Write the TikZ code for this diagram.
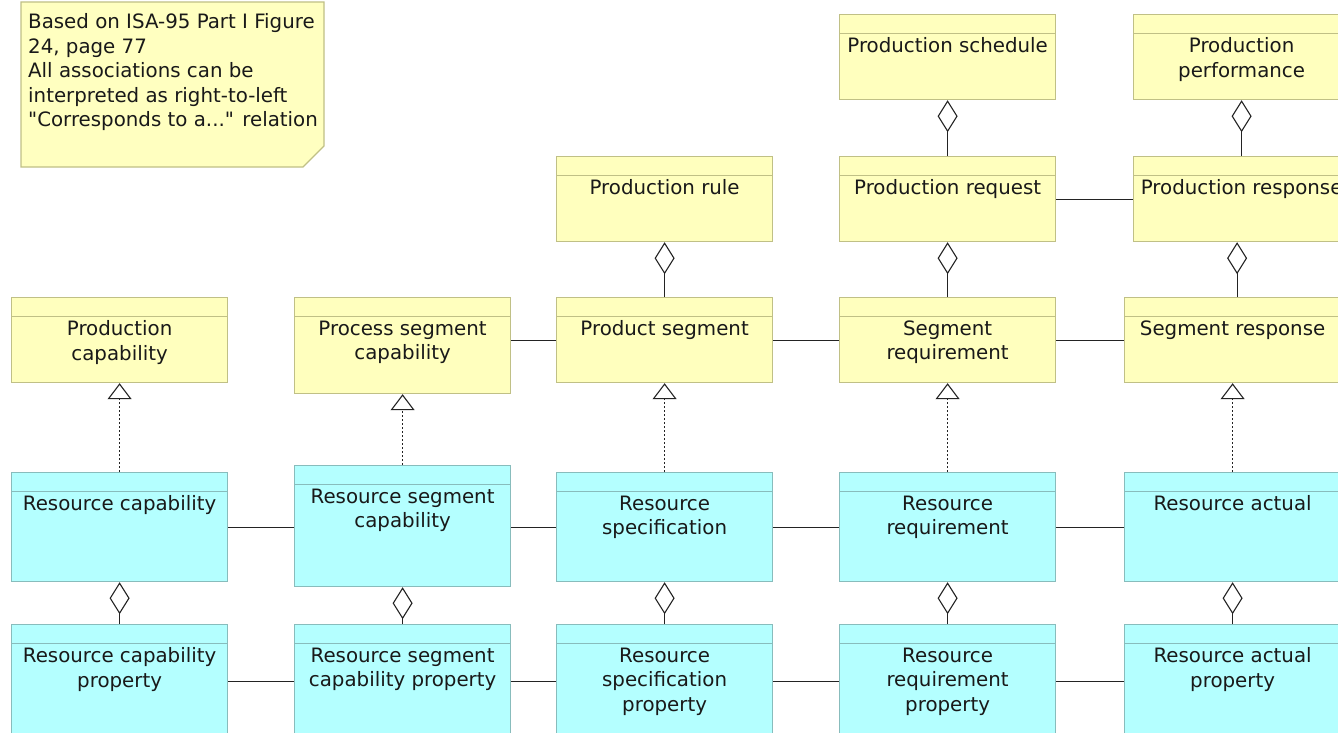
\documentclass[tikz,border=0pt]{standalone}
\usepackage{fontspec}
\setmainfont{DejaVu Sans}
\usetikzlibrary{arrows.meta,calc}

\definecolor{noteyellow}{RGB}{255,255,192}
\definecolor{clsyellow}{RGB}{255,255,190}
\definecolor{yellowline}{RGB}{192,192,134}
\definecolor{clscyan}{RGB}{180,255,255}
\definecolor{cyanline}{RGB}{136,188,188}
\definecolor{linkgray}{RGB}{35,35,35}

\begin{document}
\begin{tikzpicture}[x=1pt,y=-1pt,
	font=\fontsize{19.8}{24.5}\selectfont,
	cls/.style={draw=#1, line width=1.2pt, minimum width=216pt, anchor=north west, inner sep=0pt,
		path picture={\draw[#1, line width=1.2pt]
			([yshift=-19pt]path picture bounding box.north west) --
			([yshift=-19pt]path picture bounding box.north east);}},
	ycls/.style={cls=yellowline, fill=clsyellow},
	ccls/.style={cls=cyanline, fill=clscyan},
	title/.style={anchor=north, inner sep=0pt, align=center, text=black!90},
	assoc/.style={draw=linkgray, line width=1.1pt},
	agg/.style={assoc, -{Diamond[open, length=32pt, width=20pt]}},
	real/.style={assoc, dash pattern=on 2pt off 2pt, -{Triangle[open, length=16pt, width=24pt]}}]
	\useasboundingbox (0,0) rectangle (1338,733);
	\clip (0,0) rectangle (1338,733);

	% note in the upper left corner
	\draw[fill=noteyellow, draw=yellowline, line width=1.2pt]
		(21,2) -- (324,2) -- (324,146) -- (303,167) -- (21,167) -- cycle;
	\node[anchor=north west, align=left, inner sep=0pt, text=black!90] (note) at (28,13.5)
		{Based on ISA-95 Part I Figure\\24, page 77\\All associations can be\\interpreted as right-to-left\\\textquotedbl Corresponds to a...\textquotedbl{} relation};

	% yellow classes
	\foreach \n/\x/\y/\h/\t in {
		sched/839/14/85/{Production schedule},
		perf/1133/14/85/{Production\\performance},
		rule/556/156/85/{Production rule},
		preq/839/156/85/{Production request},
		presp/1133/156/85/{Production response},
		pcap/11/297/85/{Production\\capability},
		pseg/294/297/96/{Process segment\\capability},
		prod/556/297/85/{Product segment},
		sreq/839/297/85/{Segment\\requirement},
		sresp/1124/297/85/{Segment response}}
	{
		\node[ycls, minimum height=\h pt] (\n) at (\x,\y) {};
		\node[title] (\n-t) at ([yshift=-23.5pt]\n.north) {\t};
	}

	% cyan classes
	\foreach \n/\x/\y/\h/\t in {
		rcap/11/472/109/{Resource capability},
		rseg/294/465/121/{Resource segment\\capability},
		rspec/556/472/109/{Resource\\specification},
		rreq/839/472/109/{Resource\\requirement},
		ract/1124/472/109/{Resource actual},
		rcapp/11/624/114/{Resource capability\\property},
		rsegp/294/624/114/{Resource segment\\capability property},
		rspecp/556/624/114/{Resource\\specification\\property},
		rreqp/839/624/114/{Resource\\requirement\\property},
		ractp/1124/624/114/{Resource actual\\property}}
	{
		\node[ccls, minimum height=\h pt] (\n) at (\x,\y) {};
		\node[title] (\n-t) at ([yshift=-23.5pt]\n.north) {\t};
	}

	% aggregations
	\draw[agg] (preq.north) -- (sched.south);
	\draw[agg] (presp.north) -- (perf.south);
	\draw[agg] (prod.north) -- (rule.south);
	\draw[agg] (sreq.north) -- (preq.south);
	\coordinate (mid) at ($(presp.south)!0.5!(sresp.north)$);
	\draw[agg] (mid |- sresp.north) -- (mid |- presp.south);
	\foreach \a/\b in {rcapp/rcap, rsegp/rseg, rspecp/rspec, rreqp/rreq, ractp/ract}
		\draw[agg] (\a.north) -- (\b.south);

	% realizations
	\foreach \a/\b in {rcap/pcap, rseg/pseg, rspec/prod, rreq/sreq, ract/sresp}
		\draw[real] (\a.north) -- (\b.south);

	% associations
	\draw[assoc] (preq.east) -- (presp.west);
	\draw[assoc] (prod.west -| pseg.east) -- (prod.west);
	\draw[assoc] (prod.east) -- (sreq.west);
	\draw[assoc] (sreq.east) -- (sresp.west);
	\draw[assoc] (rcap.east) -- (rcap.east -| rseg.west);
	\draw[assoc] (rspec.west -| rseg.east) -- (rspec.west);
	\draw[assoc] (rspec.east) -- (rreq.west);
	\draw[assoc] (rreq.east) -- (ract.west);
	\draw[assoc] (rcapp.east) -- (rsegp.west);
	\draw[assoc] (rsegp.east) -- (rspecp.west);
	\draw[assoc] (rspecp.east) -- (rreqp.west);
	\draw[assoc] (rreqp.east) -- (ractp.west);
\end{tikzpicture}
\end{document}
